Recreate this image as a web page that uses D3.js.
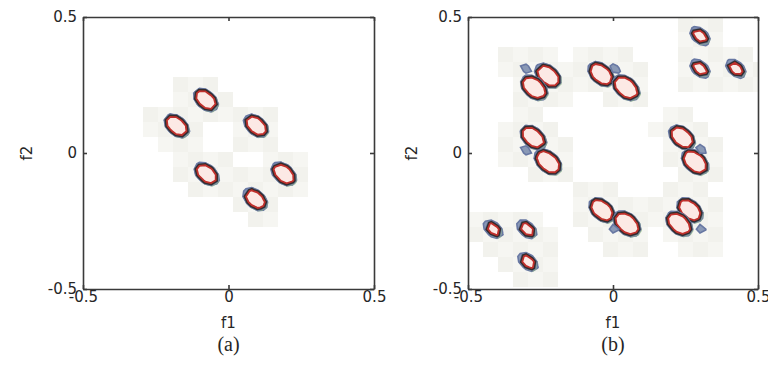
<!DOCTYPE html>
<html>
<head>
<meta charset="utf-8">
<script src="https://cdn.jsdelivr.net/npm/d3@7/dist/d3.min.js"></script>
<style>
  body { margin: 0; background: #fff; }
  svg { display: block; }
  text { font-family: "DejaVu Sans", sans-serif; fill: #262626; }
</style>
</head>
<body>
<svg width="768" height="365"></svg>
<script>
// cluster centres: f1, f2 and relative peak height
var aF1 = [-0.078, -0.178, 0.095, -0.075, 0.19, 0.092];
var aF2 = [0.195, 0.10, 0.10, -0.077, -0.077, -0.17];
var aW  = [1.15, 1.2, 1.15, 1.15, 1.2, 1.1];

// panel (b): pairs, small clusters and the tiny diamonds
var bF1 = [-0.224, -0.272, -0.30, -0.041, 0.045, 0.007, 0.30, 0.30, 0.424,
           -0.275, -0.224, -0.30, 0.238, 0.283, 0.303,
           -0.038, 0.048, 0.003, 0.265, 0.228, 0.303,
           -0.413, -0.297, -0.293];
var bF2 = [0.284, 0.24, 0.31, 0.29, 0.24, 0.31, 0.43, 0.31, 0.31,
           0.057, -0.033, 0.01, 0.057, -0.033, 0.015,
           -0.21, -0.26, -0.28, -0.21, -0.26, -0.28,
           -0.28, -0.28, -0.40];
var bW  = [1.35, 1.45, 0.4, 1.35, 1.5, 0.4, 0.75, 0.75, 0.75,
           1.35, 1.5, 0.4, 1.35, 1.5, 0.4,
           1.35, 1.5, 0.4, 1.35, 1.4, 0.4,
           0.72, 0.75, 0.75];

var tickVals = [-0.5, 0, 0.5];
var tickText = ["-0.5", "0", "0.5"];
var panelNames = ["(a)", "(b)"];

var svg = d3.select("svg");
var plotTop = 17, plotBottom = 289;
var panels = [
  {left: 83, right: 374, f1: aF1, f2: aF2, w: aW, name: panelNames[0]},
  {left: 468, right: 758, f1: bF1, f2: bF2, w: bW, name: panelNames[1]}
];

var sMaj = 0.031, sMin = 0.019;   // spread along "\" and "/" directions
var n = 51, step = 1 / (n - 1);   // coarse grid gives the angular contours

function bump(w, cx, cy, fx, fy) {
  var dx = fx - cx, dy = fy - cy;
  var u = (dx - dy) / Math.SQRT2, v = (dx + dy) / Math.SQRT2;
  return w * Math.exp(-0.5 * (u * u / (sMaj * sMaj) + v * v / (sMin * sMin)));
}
function density(p, fx, fy) {
  var s = 0;
  for (var k = 0; k < p.f1.length; k++) s += bump(p.w[k], p.f1[k], p.f2[k], fx, fy);
  return s;
}

panels.forEach(function(p) {
  var x = d3.scaleLinear().domain([-0.5, 0.5]).range([p.left, p.right]);
  var y = d3.scaleLinear().domain([-0.5, 0.5]).range([plotBottom, plotTop]);
  var g = svg.append("g");

  // pale blocky background around each cluster (like compression blocks)
  var bs = 15;
  for (var bx = p.left; bx < p.right; bx += bs) {
    for (var by = plotTop; by < plotBottom; by += bs) {
      var m = 0;
      for (var a = 0; a <= 4; a++) for (var b = 0; b <= 4; b++) {
        m = Math.max(m, density(p, x.invert(bx + a * bs / 4), y.invert(by + b * bs / 4)));
      }
      if (m > 0.04) {
        g.append("rect")
          .attr("x", bx).attr("y", by)
          .attr("width", Math.min(bs, p.right - bx))
          .attr("height", Math.min(bs, plotBottom - by))
          .attr("fill", (Math.floor(bx / bs) + Math.floor(by / bs)) % 2 ? "#f6f6f2" : "#f2f2ed");
      }
    }
  }

  var gs = d3.scaleLinear().domain([0.5, n - 0.5]).range([-0.5, 0.5]);
  var proj = d3.geoTransform({
    point: function(px, py) { this.stream.point(x(gs(px)), y(gs(py))); }
  });
  var path = d3.geoPath(proj);
  var contour = d3.contours().size([n, n]).thresholds([0.3, 0.5]);

  // each cluster gets its own contour set, so touching pairs overlap
  p.f1.forEach(function(c1, k) {
    var values = new Array(n * n);
    for (var j = 0; j < n; j++) for (var i = 0; i < n; i++) {
      values[j * n + i] = bump(p.w[k], c1, p.f2[k], -0.5 + i * step, -0.5 + j * step);
    }
    var cs = contour(values);
    var cg = g.append("g").attr("stroke-linejoin", "miter");
    cg.append("path").attr("d", path(cs[0]))
      .attr("fill", "#8a99b6").attr("stroke", "#6878a3").attr("stroke-width", 1.6);
    if (!cs[1].coordinates.length) return;
    var main = path(cs[1]);
    cg.append("path").attr("d", main).attr("transform", "translate(1,1)")
      .attr("fill", "none").attr("stroke", "#8fb583").attr("stroke-width", 5).attr("opacity", 0.7);
    cg.append("path").attr("d", main)
      .attr("fill", "none").attr("stroke", "#6c7ca5").attr("stroke-width", 6);
    cg.append("path").attr("d", main)
      .attr("fill", "none").attr("stroke", "#332d2d").attr("stroke-width", 4.6);
    cg.append("path").attr("d", main)
      .attr("fill", "#fce9e5").attr("stroke", "#c0302c").attr("stroke-width", 1.8);
  });

  // box with inward ticks
  function styleAxis(sel) {
    sel.selectAll("path, line").attr("stroke", "#3a3a3a").attr("stroke-width", 1.6);
    sel.selectAll("text").attr("fill", "#262626").style("font-size", "15px")
      .style("font-family", "'DejaVu Sans', sans-serif");
  }
  svg.append("g").attr("transform", "translate(0," + plotBottom + ")")
    .call(d3.axisBottom(x).tickValues(tickVals).tickSizeInner(-4).tickSizeOuter(0)
      .tickPadding(2).tickFormat(function(d, i) { return tickText[i]; }))
    .call(styleAxis);
  svg.append("g").attr("transform", "translate(0," + plotTop + ")")
    .call(d3.axisTop(x).tickValues(tickVals).tickSizeInner(-4).tickSizeOuter(0).tickFormat(""))
    .call(styleAxis);
  svg.append("g").attr("transform", "translate(" + p.left + ",0)")
    .call(d3.axisLeft(y).tickValues(tickVals).tickSizeInner(-4).tickSizeOuter(0)
      .tickPadding(6).tickFormat(function(d, i) { return tickText[i]; }))
    .call(styleAxis);
  svg.append("g").attr("transform", "translate(" + p.right + ",0)")
    .call(d3.axisRight(y).tickValues(tickVals).tickSizeInner(-4).tickSizeOuter(0).tickFormat(""))
    .call(styleAxis);

  var cx = x(0);
  svg.append("text").attr("x", cx).attr("y", 328).attr("text-anchor", "middle")
    .style("font-size", "15px").text("f1");
  svg.append("text").attr("transform", "translate(" + (p.left - 56) + "," + y(0) + ") rotate(-90)")
    .attr("text-anchor", "middle").attr("dy", "0.35em")
    .style("font-size", "15px").text("f2");
  svg.append("text").attr("x", cx).attr("y", 351).attr("text-anchor", "middle")
    .style("font-family", "'Liberation Serif', serif").style("font-size", "20px")
    .attr("fill", "#222").text(p.name);
});
</script>
</body>
</html>
